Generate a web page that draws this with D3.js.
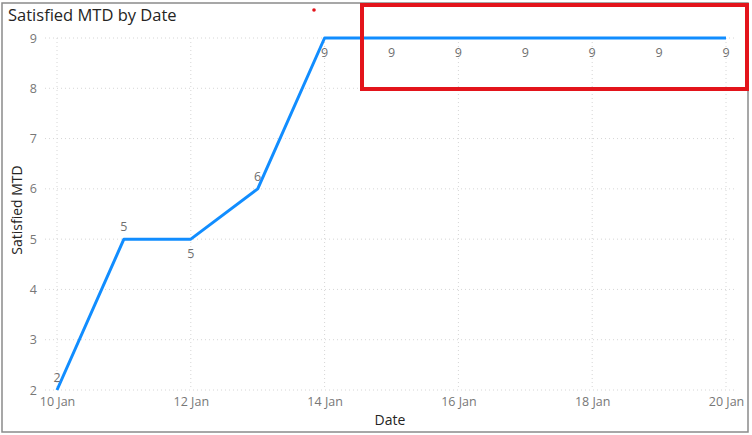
<!DOCTYPE html>
<html>
<head>
<meta charset="utf-8">
<script src="https://cdn.jsdelivr.net/npm/d3@7"></script>
<style>
  body { margin: 0; background: #fff; }
  text { font-family: "Open Sans", "Noto Sans", sans-serif; }
</style>
</head>
<body>
<div id="chart"></div>
<script>
// --- Satisfied MTD by Date ---
const dates = ["2024-01-10", "2024-01-11", "2024-01-12", "2024-01-13", "2024-01-14",
    "2024-01-15", "2024-01-16", "2024-01-17", "2024-01-18", "2024-01-19", "2024-01-20"];
const satisfied = [2, 5, 5, 6, 9, 9, 9, 9, 9, 9, 9];
// label above (-1) or below (1) the point
const labelSide = [-1, -1, 1, -1, 1, 1, 1, 1, 1, 1, 1];
const yTicks = [2, 3, 4, 5, 6, 7, 8, 9];
const xTickDates = ["2024-01-10", "2024-01-12", "2024-01-14", "2024-01-16", "2024-01-18", "2024-01-20"];

const parse = d3.timeParse("%Y-%m-%d");
const data = dates.map((d, i) => ({ date: parse(d), value: satisfied[i], side: labelSide[i] }));

const W = 752, H = 435;
const margin = { top: 38, right: 26, bottom: 45, left: 57 };
const width = W - margin.left - margin.right,
    height = H - margin.top - margin.bottom;

const svg = d3.select("#chart").append("svg")
    .attr("width", W)
    .attr("height", H);

// outer frame
svg.append("rect")
    .attr("x", 2).attr("y", 3)
    .attr("width", 746).attr("height", 429)
    .attr("fill", "none")
    .attr("stroke", "#8a8a8a")
    .attr("stroke-width", 1.5);

svg.append("text")
    .attr("x", 8).attr("y", 21)
    .attr("font-size", 16.5)
    .attr("fill", "#252423")
    .text("Satisfied MTD by Date");

const g = svg.append("g").attr("transform", `translate(${margin.left},${margin.top})`);

const x = d3.scaleTime()
    .domain(d3.extent(data, d => d.date))
    .range([0, width]);
const y = d3.scaleLinear().domain([2, 9]).range([height, 0]);

// grid
g.selectAll(".hgrid").data(yTicks).enter().append("line")
    .attr("x1", -12).attr("x2", width + 9)
    .attr("y1", d => y(d)).attr("y2", d => y(d))
    .attr("stroke", "#d6d6d6").attr("stroke-dasharray", "1,3");

g.selectAll(".vgrid").data(xTickDates.map(parse)).enter().append("line")
    .attr("x1", d => x(d)).attr("x2", d => x(d))
    .attr("y1", 0).attr("y2", height)
    .attr("stroke", "#d6d6d6").attr("stroke-dasharray", "1,3");

// axes
const yAxis = g.append("g")
    .call(d3.axisLeft(y).tickValues(yTicks).tickSize(0).tickPadding(20)
        .tickFormat(d3.format("d")));
const xAxis = g.append("g")
    .attr("transform", `translate(0,${height})`)
    .call(d3.axisBottom(x).tickValues(xTickDates.map(parse)).tickSize(0).tickPadding(7)
        .tickFormat(d3.timeFormat("%-d %b")));
[xAxis, yAxis].forEach(a => {
    a.select(".domain").remove();
    a.selectAll("text").attr("fill", "#777").attr("font-size", 12.5)
        .attr("font-family", "'Open Sans', sans-serif");
});

svg.append("text")
    .attr("x", 390).attr("y", 425)
    .attr("text-anchor", "middle")
    .attr("font-size", 14).attr("fill", "#252423")
    .text("Date");

svg.append("text")
    .attr("transform", "translate(22,210) rotate(-90)")
    .attr("text-anchor", "middle")
    .attr("font-size", 14).attr("fill", "#252423")
    .text("Satisfied MTD");

// line
g.append("path")
    .datum(data)
    .attr("fill", "none")
    .attr("stroke", "#118DFF")
    .attr("stroke-width", 3)
    .attr("stroke-linejoin", "round")
    .attr("d", d3.line().x(d => x(d.date)).y(d => y(d.value)));

// data labels
g.selectAll(".lbl").data(data).enter().append("text")
    .attr("x", d => x(d.date))
    .attr("y", d => y(d.value) + (d.side < 0 ? -8 : 19))
    .attr("text-anchor", "middle")
    .attr("font-size", 12.5)
    .attr("fill", "#6f6f6f")
    .text(d => d.value);

// highlight annotation
svg.append("rect")
    .attr("x", 362).attr("y", 5)
    .attr("width", 385).attr("height", 84)
    .attr("fill", "none")
    .attr("stroke", "#e3141b")
    .attr("stroke-width", 4);

svg.append("circle")
    .attr("cx", 314).attr("cy", 10).attr("r", 1.8)
    .attr("fill", "#e3141b");
</script>
</body>
</html>
